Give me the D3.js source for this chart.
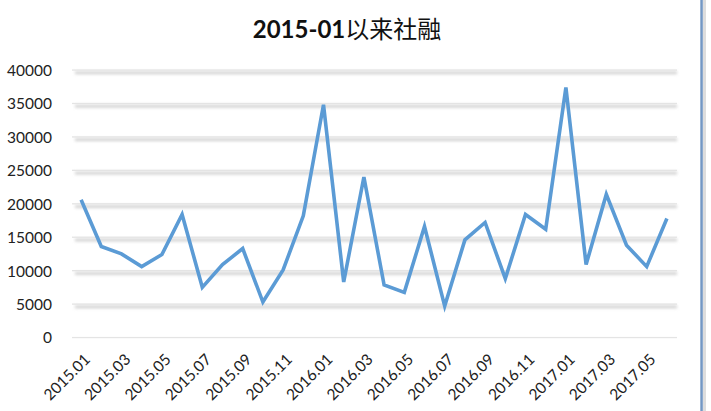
<!DOCTYPE html>
<html><head><meta charset="utf-8">
<script src="https://cdn.jsdelivr.net/npm/d3@7"></script>
<style>body{margin:0;background:#fff}svg{display:block}</style>
</head><body>
<script>
const months = ["2015.01","2015.02","2015.03","2015.04","2015.05","2015.06","2015.07","2015.08","2015.09","2015.10","2015.11","2015.12",
"2016.01","2016.02","2016.03","2016.04","2016.05","2016.06","2016.07","2016.08","2016.09","2016.10","2016.11","2016.12",
"2017.01","2017.02","2017.03","2017.04","2017.05","2017.06"];
const values = [20600,13600,12500,10600,12400,18400,7500,10900,13300,5300,10100,18200,
34800,8300,24000,7850,6750,16600,4700,14600,17200,8800,18400,16200,
37400,10900,21400,13800,10600,17800];
const yTicks = [0,5000,10000,15000,20000,25000,30000,35000,40000];
const title = "2015-01以来社融";

const W=711,H=411;
const svg=d3.select("body").append("svg").attr("width",W).attr("height",H);
const defs=svg.append("defs");
defs.append("filter").attr("id","blur").attr("filterUnits","userSpaceOnUse")
  .attr("x",0).attr("y",0).attr("width",W).attr("height",H)
  .append("feGaussianBlur").attr("stdDeviation",1.4);

const x=d3.scaleBand().domain(months).range([71,677]);
const y=d3.scaleLinear().domain([0,40000]).range([337.5,70]);

// right border
svg.append("rect").attr("x",703).attr("y",0).attr("width",3).attr("height",H).attr("fill","#ddd");
svg.append("rect").attr("x",700.3).attr("y",0).attr("width",2.5).attr("height",H).attr("fill","#7397c4");

// gridlines
const g=svg.append("g");
yTicks.forEach(t=>{
  if(t>0){
    g.append("rect").attr("x",75).attr("width",602).attr("y",y(t)+1.5).attr("height",2.6)
      .attr("fill","#cdcdcd").attr("filter","url(#blur)");
  }
  g.append("rect").attr("x",72).attr("width",605).attr("y",y(t)-0.6).attr("height",1.3)
    .attr("fill","#e4e4e4");
});

// y axis labels
const yAxis=d3.axisLeft(y).tickValues(yTicks).tickSize(0).tickPadding(0).tickFormat(d3.format("d"));
const ya=svg.append("g").attr("transform","translate(52,0)").call(yAxis);
ya.select(".domain").remove();
ya.selectAll("text").attr("font-family","Lato, 'Open Sans', sans-serif").attr("font-size",15.5).attr("fill","#222").attr("dy","0.35em");

// x axis labels
const xAxis=d3.axisBottom(x).tickValues(months.filter((m,i)=>i%2===0)).tickSize(0).tickPadding(0);
const xa=svg.append("g").attr("transform","translate(0,337.5)").call(xAxis);
xa.select(".domain").remove();
xa.selectAll("text").attr("font-family","Lato, 'Open Sans', sans-serif").attr("font-size",15.5).attr("fill","#222")
  .attr("text-anchor","end").attr("dy",null).attr("y",null)
  .attr("transform","translate(10,23) rotate(-45)");

// line
const line=d3.line().x((d,i)=>x(months[i])+x.bandwidth()/2).y(d=>y(d));
svg.append("path").datum(values).attr("d",line).attr("fill","none")
  .attr("stroke","#5b9bd5").attr("stroke-width",3.6).attr("stroke-linejoin","miter").attr("stroke-miterlimit",4);

// title
const tt=svg.append("text").attr("x",347).attr("y",38).attr("text-anchor","middle")
  .attr("font-family","Lato, 'Open Sans', 'Noto Sans CJK SC', sans-serif").attr("font-size",24).attr("fill","#111");
tt.append("tspan").attr("font-weight","bold").text(title.slice(0,7));
tt.append("tspan").attr("font-family","'Noto Sans CJK SC', sans-serif").attr("font-weight","normal").text(title.slice(7));
</script>
</body></html>
